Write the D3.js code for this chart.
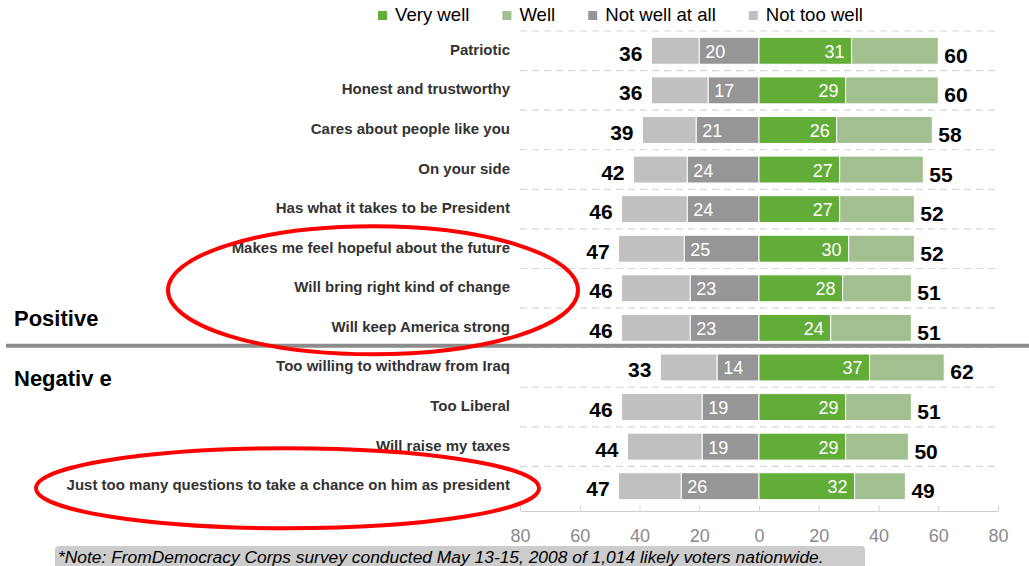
<!DOCTYPE html>
<html>
<head>
<meta charset="utf-8">
<script src="https://cdn.jsdelivr.net/npm/d3@7"></script>
<style>
  body { margin: 0; background: #fff; }
  svg { display: block; font-family: "Liberation Sans", Arial, sans-serif; }
</style>
</head>
<body>
<div id="chart"></div>
<script>
// rows, top to bottom
const categories = [
  "Patriotic",
  "Honest and trustworthy",
  "Cares about people like you",
  "On your side",
  "Has what it takes to be President",
  "Makes me feel hopeful about the future",
  "Will bring right kind of change",
  "Will keep America strong",
  "Too willing to withdraw from Iraq",
  "Too Liberal",
  "Will raise my taxes",
  "Just too many questions to take a chance on him as president"
];
const positiveCount = 8;
const groupLabels = ["Positive", "Negativ e"];

// totals left (not well) / right (well), plus the labelled inner segments
const totalNotWell = [36, 36, 39, 42, 46, 47, 46, 46, 33, 46, 44, 47];
const notWellAtAll = [20, 17, 21, 24, 24, 25, 23, 23, 14, 19, 19, 26];
const veryWell     = [31, 29, 26, 27, 27, 30, 28, 24, 37, 29, 29, 32];
const totalWell    = [60, 60, 58, 55, 52, 52, 51, 51, 62, 51, 50, 49];

const legendKeys = ["Very well", "Well", "Not well at all", "Not too well"];
const xTicks = [-80, -60, -40, -20, 0, 20, 40, 60, 80];
const note = "*Note: FromDemocracy Corps survey conducted May 13-15, 2008 of 1,014 likely voters nationwide.";

// red circled rows
const circled = [
  { from: "Makes me feel hopeful about the future", to: "Will keep America strong", x0: 168, x1: 578, ry: 64 },
  { from: "Just too many questions to take a chance on him as president", to: "Just too many questions to take a chance on him as president", x0: 36, x1: 539, ry: 40 }
];

const colors = {
  "Very well": "#62ac38",
  "Well": "#a2c08f",
  "Not well at all": "#969696",
  "Not too well": "#c0c0c0"
};

const width = 1029, height = 566;

const data = categories.map((c, i) => ({
  cat: c,
  segs: [
    { key: "Not too well", a: -totalNotWell[i], b: -notWellAtAll[i] },
    { key: "Not well at all", a: -notWellAtAll[i], b: 0, label: notWellAtAll[i] },
    { key: "Very well", a: 0, b: veryWell[i], label: veryWell[i] },
    { key: "Well", a: veryWell[i], b: totalWell[i] }
  ],
  left: totalNotWell[i],
  right: totalWell[i]
}));

const x = d3.scaleLinear().domain([-80, 80]).range([520, 998]);
const y = d3.scaleBand().domain(categories).range([31, 506]).paddingInner(0.32).paddingOuter(0.16);
const bw = y.bandwidth();
const step = y.step();
const rowTop = c => y(c) - (step - bw) / 2;

const svg = d3.select("#chart").append("svg")
  .attr("width", width).attr("height", height);

// dashed grid between rows
svg.append("g").selectAll("line")
  .data(categories).join("line")
  .attr("x1", x(-80)).attr("x2", x(80))
  .attr("y1", d => rowTop(d)).attr("y2", d => rowTop(d))
  .attr("stroke", "#d6d6d6").attr("stroke-width", 1.2)
  .attr("stroke-dasharray", "7,5");

// axis
const axis = svg.append("g")
  .attr("transform", `translate(0,${rowTop(categories[categories.length - 1]) + step + 5})`)
  .call(d3.axisBottom(x).tickValues(xTicks).tickFormat(d => Math.abs(d))
    .tickSizeInner(-5).tickSizeOuter(0).tickPadding(18));
axis.select(".domain").attr("stroke", "#d0d0d0");
axis.selectAll(".tick line").attr("stroke", "#d0d0d0");
axis.selectAll(".tick text")
  .attr("fill", "#8a8a8a").attr("font-size", 18)
  .attr("font-family", "Liberation Sans, Arial, sans-serif");

// bars
const rows = svg.append("g").selectAll("g.row")
  .data(data).join("g")
  .attr("transform", d => `translate(0,${y(d.cat)})`);

rows.selectAll("rect")
  .data(d => d.segs).join("rect")
  .attr("x", s => x(s.a))
  .attr("width", s => x(s.b) - x(s.a))
  .attr("y", 0).attr("height", bw)
  .attr("fill", s => colors[s.key])
  .attr("stroke", "#fff").attr("stroke-width", 1);

// inner labels
rows.append("text")
  .attr("x", d => x(d.segs[1].a) + 6)
  .attr("y", bw / 2 + 7)
  .attr("fill", "#fff").attr("font-size", 18)
  .text(d => d.segs[1].label);
rows.append("text")
  .attr("x", d => x(d.segs[2].b) - 7)
  .attr("y", bw / 2 + 7)
  .attr("text-anchor", "end")
  .attr("fill", "#fff").attr("font-size", 18)
  .text(d => d.segs[2].label);

// totals
rows.append("text")
  .attr("x", d => x(-d.left) - 9)
  .attr("y", bw / 2 + 10)
  .attr("text-anchor", "end")
  .attr("font-size", 21).attr("font-weight", "bold").attr("fill", "#000")
  .text(d => d.left);
rows.append("text")
  .attr("x", d => x(d.right) + 6)
  .attr("y", bw / 2 + 12)
  .attr("font-size", 21).attr("font-weight", "bold").attr("fill", "#000")
  .text(d => d.right);

// row labels
rows.append("text")
  .attr("x", 510)
  .attr("y", bw / 2 + 4)
  .attr("text-anchor", "end")
  .attr("font-size", 15).attr("font-weight", "bold").attr("fill", "#333")
  .text(d => d.cat);

// positive / negative separator
const sepY = rowTop(categories[positiveCount]) - 2;
svg.append("line")
  .attr("x1", 6).attr("x2", width)
  .attr("y1", sepY).attr("y2", sepY)
  .attr("stroke", "#8c8c8c").attr("stroke-width", 4);

svg.append("text")
  .attr("x", 14).attr("y", sepY - 20)
  .attr("font-size", 22).attr("font-weight", "bold")
  .text(groupLabels[0]);
svg.append("text")
  .attr("x", 14).attr("y", sepY + 40)
  .attr("font-size", 22).attr("font-weight", "bold")
  .text(groupLabels[1]);

// red ellipses
svg.append("g").selectAll("ellipse")
  .data(circled).join("ellipse")
  .attr("cx", d => (d.x0 + d.x1) / 2)
  .attr("cy", d => (y(d.from) + y(d.to) + bw) / 2 + 2)
  .attr("rx", d => (d.x1 - d.x0) / 2)
  .attr("ry", d => d.ry)
  .attr("fill", "none").attr("stroke", "#f00").attr("stroke-width", 4);

// legend
const legend = svg.append("g").attr("transform", "translate(378,0)");
let lx = 0;
legendKeys.forEach(k => {
  const g = legend.append("g").attr("transform", `translate(${lx},0)`);
  g.append("rect").attr("x", 0).attr("y", 11).attr("width", 9).attr("height", 9)
    .attr("fill", colors[k]);
  const t = g.append("text").attr("x", 17).attr("y", 21)
    .attr("font-size", 18.6).attr("fill", "#000").text(k);
  lx += 17 + t.node().getComputedTextLength() + 33;
});

// note
svg.append("rect")
  .attr("x", 55).attr("y", 546).attr("width", 810).attr("height", 26)
  .attr("rx", 4).attr("fill", "#cccccc");
svg.append("text")
  .attr("x", 58).attr("y", 563)
  .attr("font-size", 17.4).attr("font-style", "italic").attr("fill", "#000")
  .text(note);
</script>
</body>
</html>
